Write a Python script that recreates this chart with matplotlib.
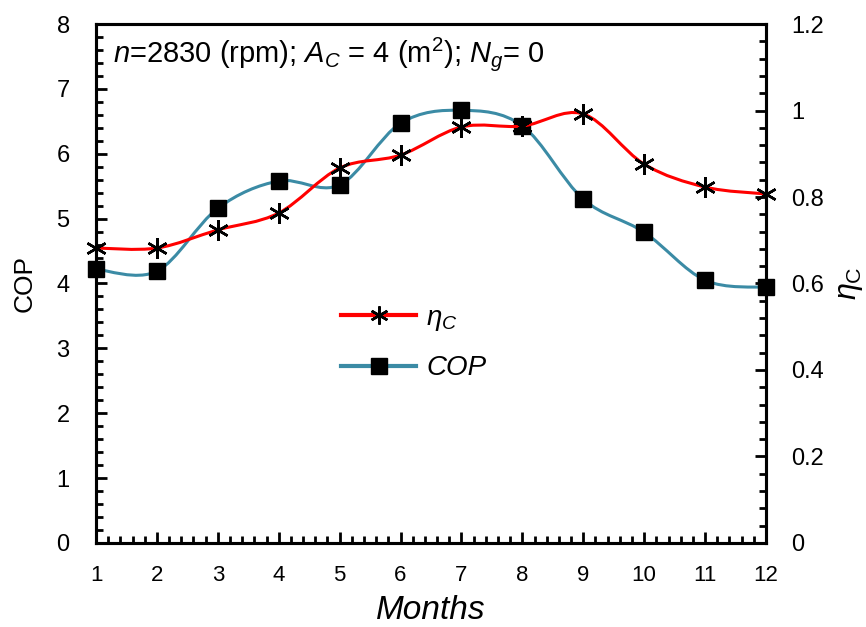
import matplotlib
matplotlib.use("Agg")
import matplotlib.pyplot as plt
import numpy as np
from matplotlib.path import Path
from matplotlib.patches import PathPatch
from matplotlib.lines import Line2D
from matplotlib.ticker import MultipleLocator, FormatStrFormatter

plt.rcParams['font.family'] = ['Liberation Sans', 'DejaVu Sans']
plt.rcParams['mathtext.fontset'] = 'custom'
plt.rcParams['mathtext.rm'] = 'Liberation Sans'
plt.rcParams['mathtext.it'] = 'Liberation Sans:italic'

months = [1, 2, 3, 4, 5, 6, 7, 8, 9, 10, 11, 12]
cop = [4.22, 4.19, 5.16, 5.58, 5.52, 6.47, 6.67, 6.43, 5.30, 4.79, 4.05, 3.94]
eta_c = [0.682, 0.682, 0.724, 0.763, 0.867, 0.897, 0.962, 0.964, 0.992, 0.876, 0.823, 0.807]

red = '#FF0000'
teal = '#3B8BA5'


# excel-like smoothed line: cubic bezier segments through the data points
def smooth_path(x, y):
    p = np.column_stack([x, y]).astype(float)
    n = len(p)
    verts = [p[0]]
    codes = [Path.MOVETO]
    for i in range(n - 1):
        p_prev = p[i - 1] if i > 0 else p[i]
        p_next2 = p[i + 2] if i + 2 < n else p[i + 1]
        c1 = p[i] + (p[i + 1] - p_prev) / 6.0
        c2 = p[i + 1] - (p_next2 - p[i]) / 6.0
        verts += [c1, c2, p[i + 1]]
        codes += [Path.CURVE4] * 3
    return Path(verts, codes)


fig = plt.figure(figsize=(8.66, 6.27), dpi=100)
ax = fig.add_axes([0.1109, 0.134, 0.7736, 0.8277])
ax2 = ax.twinx()

ax.set_xlim(1, 12)
ax.set_ylim(0, 8)
ax2.set_ylim(0, 1.2)

# COP on left axis
ax.add_patch(PathPatch(smooth_path(months, cop), facecolor='none',
                       edgecolor=teal, lw=2.2, zorder=2))
ax.plot(months, cop, ls='none', marker='s', ms=12, color='black',
        clip_on=False, zorder=3)

# eta_C on right axis
ax2.add_patch(PathPatch(smooth_path(months, eta_c), facecolor='none',
                        edgecolor=red, lw=2.2, zorder=2))
ax2.plot(months, eta_c, ls='none', marker=(6, 2, 0), ms=15, mew=1.8,
         color='black', clip_on=False, zorder=3)

# ticks
ax.xaxis.set_major_locator(MultipleLocator(1))
ax.xaxis.set_minor_locator(MultipleLocator(0.2))
ax.yaxis.set_major_locator(MultipleLocator(1))
ax.yaxis.set_minor_locator(MultipleLocator(0.2))
ax2.yaxis.set_major_locator(MultipleLocator(0.2))
ax2.yaxis.set_minor_locator(MultipleLocator(0.04))
ax2.yaxis.set_major_formatter(FormatStrFormatter('%g'))

ax.tick_params(axis='x', which='both', direction='in', top=False, width=2, labelsize=16, pad=16)
ax.tick_params(axis='y', which='both', direction='in', right=False, width=2, labelsize=17, pad=19)
ax.tick_params(which='major', length=8)
ax.tick_params(which='minor', length=5)
ax2.tick_params(axis='y', which='both', direction='in', width=2, labelsize=17, pad=18)
ax2.tick_params(which='major', length=8)
ax2.tick_params(which='minor', length=5)

for a in (ax, ax2):
    for s in a.spines.values():
        s.set_linewidth(2.2)

ax.set_xlabel('Months', fontsize=24, style='italic', labelpad=6)
ax.set_ylabel('COP', fontsize=19, labelpad=14)
ax2.set_ylabel(r'$\eta_{\mathrm{C}}$', fontsize=22, labelpad=8)

ax.text(0.026, 0.942, r'$n$=2830 (rpm); $A_C$ = 4 (m$^2$); $N_g$= 0',
        transform=ax.transAxes, fontsize=21, va='center', ha='left')

handles = [
    Line2D([], [], color=red, lw=3, marker=(6, 2, 0), ms=13, mew=1.8, mec='black'),
    Line2D([], [], color=teal, lw=3, marker='s', ms=12, mfc='black', mec='black'),
]
ax.legend(handles, [r'$\eta_C$', 'COP'], loc='center left',
          bbox_to_anchor=(0.366, 0.385), frameon=False, borderpad=0,
          borderaxespad=0, handlelength=2.7, handletextpad=0.36,
          labelspacing=0.8, prop={'size': 20, 'style': 'italic'})

fig.savefig('out.png', dpi=100)
